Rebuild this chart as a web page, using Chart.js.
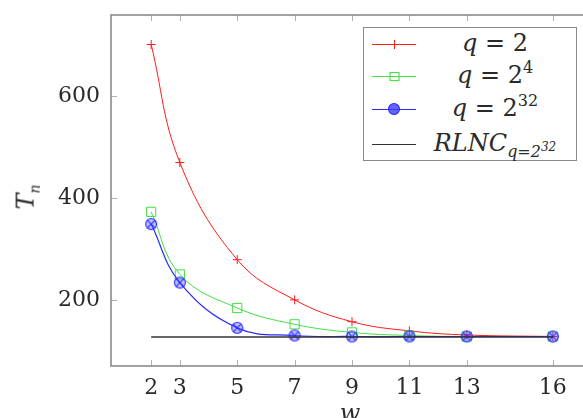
<!DOCTYPE html>
<html lang="en">
<head>
  <meta charset="UTF-8" />
  <title>T_n versus w</title>
  <script src="https://cdn.jsdelivr.net/npm/chart.js"></script>
  <style>
    html, body { margin: 0; padding: 0; background: #fff; overflow: hidden; }
    #wrap { position: relative; width: 583px; height: 418px; overflow: hidden; }
    #chart { position: absolute; left: 0; top: 0; }
    .serif { font-family: "DejaVu Serif", "Liberation Serif", serif; color: #2a2a2a; }
    #ytitle { position: absolute; left: 27px; top: 197px; font-size: 24px; font-style: italic;
              transform: translate(-50%, -50%) rotate(-90deg); white-space: nowrap; }
    #ytitle sub { font-size: 14px; }
    #xtitle { position: absolute; left: 350px; top: 413px; font-size: 24px; font-style: italic;
              transform: translate(-50%, -50%); }
    #legend { position: absolute; left: 363px; top: 27px; width: 214px; height: 134px;
              border: 1.5px solid #8a8a8a; background: #fff; box-sizing: border-box; }
    .row { position: absolute; left: 0; width: 100%; height: 30px; }
    .row canvas { position: absolute; left: 8px; top: 5px; }
    .row .lbl { position: absolute; left: 52px; right: 2px; top: 1px; text-align: center;
                font-size: 24px; line-height: 26px; white-space: nowrap; }
    .lbl i { font-style: italic; }
    .lbl sup { font-size: 16px; vertical-align: 10px; line-height: 0; }
    .lbl sub { font-size: 16px; vertical-align: -6px; line-height: 0; }
    .lbl sub sup { font-size: 12px; vertical-align: 6px; }
  </style>
</head>
<body>
<div id="wrap">
  <canvas id="chart" width="610" height="418"></canvas>
  <div id="ytitle" class="serif">T<sub>n</sub></div>
  <div id="xtitle" class="serif">w</div>
  <div id="legend" class="serif">
    <div class="row" style="top:1px"><canvas id="lg0" width="44" height="20"></canvas>
      <div class="lbl"><i>q</i> = 2</div></div>
    <div class="row" style="top:33px"><canvas id="lg1" width="44" height="20"></canvas>
      <div class="lbl"><i>q</i> = 2<sup>4</sup></div></div>
    <div class="row" style="top:66px"><canvas id="lg2" width="44" height="20"></canvas>
      <div class="lbl"><i>q</i> = 2<sup>32</sup></div></div>
    <div class="row" style="top:101px"><canvas id="lg3" width="44" height="20"></canvas>
      <div class="lbl"><i>RLNC<sub>q=2<sup>32</sup></sub></i></div></div>
  </div>
</div>

<script>
  // data
  const wValues = [2, 3, 5, 7, 9, 11, 13, 16];
  const tnQ2 = [702, 470, 279, 200, 157, 139, 131, 128];
  const tnQ16 = [373, 250, 184, 152, 136, 130, 128, 128];
  const tnQ2p32 = [349, 234, 145, 130, 128, 128, 128, 128];
  const tnRlnc = [127, 127, 127, 127, 127, 127, 127, 127];
  const xTickValues = [2, 3, 5, 7, 9, 11, 13, 16];
  const yTickValues = [200, 400, 600];

  const RED = '#ff1a1a', GREEN = '#44e044', BLUE = '#2a2aff', BLACK = '#333';
  const FRAME = '#8a8a8a';

  function pts(ys) { return wValues.map((w, i) => ({ x: w, y: ys[i] })); }

  // circle with an x in it (otimes*)
  function otimes(fill, withX) {
    const c = document.createElement('canvas');
    c.width = 14; c.height = 14;
    const g = c.getContext('2d');
    g.beginPath(); g.arc(7, 7, 5.5, 0, Math.PI * 2);
    g.fillStyle = fill; g.fill();
    g.strokeStyle = BLUE; g.lineWidth = 1.1; g.stroke();
    if (withX) {
      g.beginPath();
      g.moveTo(3.2, 3.2); g.lineTo(10.8, 10.8);
      g.moveTo(10.8, 3.2); g.lineTo(3.2, 10.8);
      g.stroke();
    }
    return c;
  }
  const blueMark = otimes('rgba(90,90,255,0.4)', true);

  const serif = '"DejaVu Serif", "Liberation Serif", serif';

  const frameTicks = {
    id: 'frameTicks',
    beforeDatasetsDraw(chart) {
      const { ctx, chartArea: a, scales } = chart;
      ctx.save();
      ctx.strokeStyle = '#b0b0b0';
      ctx.lineWidth = 1;
      xTickValues.forEach(v => {
        const x = Math.round(scales.x.getPixelForValue(v)) + 0.5;
        ctx.beginPath();
        ctx.moveTo(x, a.bottom); ctx.lineTo(x, a.bottom - 6);
        ctx.moveTo(x, a.top); ctx.lineTo(x, a.top + 6);
        ctx.stroke();
      });
      yTickValues.forEach(v => {
        const y = Math.round(scales.y.getPixelForValue(v)) + 0.5;
        ctx.beginPath();
        ctx.moveTo(a.left, y); ctx.lineTo(a.left + 6, y);
        ctx.moveTo(a.right, y); ctx.lineTo(a.right - 6, y);
        ctx.stroke();
      });
      ctx.strokeStyle = FRAME;
      ctx.lineWidth = 1.6;
      ctx.strokeRect(a.left, a.top, a.right - a.left, a.bottom - a.top);
      ctx.restore();
    }
  };

  new Chart(document.getElementById('chart'), {
    type: 'line',
    data: {
      datasets: [
        { label: 'q = 2', data: pts(tnQ2), borderColor: RED, borderWidth: 1,
          pointStyle: 'cross', pointRadius: 4.5, pointBorderColor: RED, pointBorderWidth: 1, order: 3 },
        { label: 'q = 2^4', data: pts(tnQ16), borderColor: GREEN, borderWidth: 1,
          pointStyle: 'rect', pointRadius: 6.5, pointBorderColor: GREEN, pointBackgroundColor: 'rgba(0,0,0,0)',
          pointBorderWidth: 1, order: 2 },
        { label: 'q = 2^32', data: pts(tnQ2p32), borderColor: BLUE, borderWidth: 1.2,
          pointStyle: blueMark, pointRadius: 6, order: 1 },
        { label: 'RLNC', data: pts(tnRlnc), borderColor: BLACK, borderWidth: 1.3,
          pointRadius: 0, tension: 0, order: 0 }
      ]
    },
    options: {
      responsive: false,
      animation: false,
      devicePixelRatio: 1,
      layout: { padding: { top: 15, right: 17, left: 0, bottom: 0 } },
      elements: { line: { tension: 0.4, fill: false } },
      plugins: { legend: { display: false }, tooltip: { enabled: false } },
      scales: {
        x: {
          type: 'linear', min: 0.6, max: 17.4,
          afterBuildTicks: s => { s.ticks = xTickValues.map(v => ({ value: v })); },
          afterFit: s => { s.height = 52; s.paddingLeft = 0; s.paddingRight = 0; },
          ticks: { font: { family: serif, size: 22 }, color: '#2a2a2a', padding: 9, maxRotation: 0 },
          grid: { display: false, drawTicks: false, tickLength: 0 },
          border: { display: false }
        },
        y: {
          min: 70, max: 760,
          afterBuildTicks: s => { s.ticks = yTickValues.map(v => ({ value: v })); },
          afterFit: s => { s.width = 111; s.paddingTop = 0; s.paddingBottom = 0; },
          ticks: { font: { family: serif, size: 22 }, color: '#2a2a2a', padding: 11 },
          grid: { display: false, drawTicks: false, tickLength: 0 },
          border: { display: false }
        }
      }
    },
    plugins: [frameTicks]
  });

  // legend samples
  function sample(id, color, kind) {
    const g = document.getElementById(id).getContext('2d');
    g.strokeStyle = color; g.lineWidth = 1.1;
    g.beginPath(); g.moveTo(0, 10.5); g.lineTo(44, 10.5); g.stroke();
    if (kind === 'cross') {
      g.beginPath(); g.moveTo(22.5, 6); g.lineTo(22.5, 15); g.stroke();
    } else if (kind === 'rect') {
      g.strokeRect(18, 6.5, 9, 8);
    } else if (kind === 'circle') {
      g.drawImage(otimes('rgba(60,60,255,0.8)', false), 15, 3);
    }
  }
  sample('lg0', RED, 'cross');
  sample('lg1', GREEN, 'rect');
  sample('lg2', BLUE, 'circle');
  sample('lg3', BLACK, 'none');
</script>
</body>
</html>
